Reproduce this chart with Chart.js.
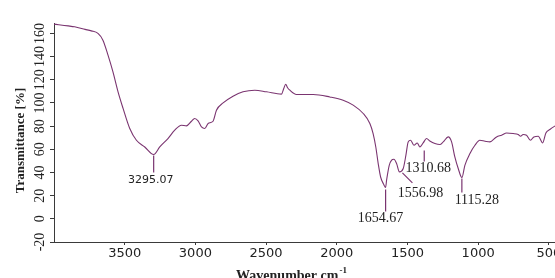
<!DOCTYPE html>
<html>
<head>
<meta charset="utf-8">
<script src="https://cdn.jsdelivr.net/npm/chart.js@4"></script>
<style>
  html, body { margin: 0; padding: 0; background: #fff; overflow: hidden; width: 555px; height: 278px; }
</style>
</head>
<body>
<canvas id="ftirChart" width="580" height="278"></canvas>
<script>
// FTIR spectrum (cm-1, %)
const wavenumbers = [
  4000, 3900, 3854, 3780, 3736, 3689, 3654, 3618, 3583, 3547, 3512, 3465, 3417, 3358, 3295,
  3252, 3194, 3146, 3099, 3063, 3028, 3005, 2981, 2957, 2934, 2910, 2875, 2851, 2804, 2734,
  2663, 2580, 2497, 2391, 2375, 2361, 2349, 2332, 2285, 2167, 2049, 1955, 1884, 1813, 1766,
  1743, 1724, 1707, 1690, 1667, 1655, 1647, 1629, 1612, 1596, 1577, 1557, 1530, 1511, 1495,
  1478, 1454, 1431, 1412, 1389, 1365, 1342, 1306, 1271, 1247, 1212, 1188, 1165, 1141, 1115,
  1094, 1058, 1023, 988, 952, 917, 870, 834, 799, 752, 717, 700, 682, 658, 630,
  606, 575, 544, 521, 493, 458, 400
];
const transmittance = [
  168.0, 166.5, 165.7, 163.5, 162.2, 160.0, 154.2, 141.3, 126.8, 109.6, 95.5, 78.2, 67.8, 62.0, 55.5,
  62.0, 69.3, 76.5, 80.8, 80.2, 84.2, 86.6, 84.5, 79.3, 77.9, 82.3, 84.2, 93.7, 100.0, 105.8,
  109.6, 111.0, 109.6, 107.6, 112.5, 116.2, 113.4, 111.0, 107.3, 107.3, 105.2, 102.4, 98.1, 90.9, 82.3,
  73.6, 62.0, 47.7, 36.1, 29.5, 27.0, 34.0, 46.2, 50.6, 51.4, 47.7, 40.5, 43.4, 54.9, 66.4,
  67.8, 63.5, 65.5, 62.0, 65.5, 69.3, 67.2, 65.0, 64.1, 66.4, 70.7, 66.4, 53.4, 43.4, 35.6,
  46.2, 56.4, 63.5, 67.8, 67.0, 66.4, 70.7, 72.2, 74.1, 73.6, 72.8, 71.3, 72.8, 72.2, 67.8,
  70.7, 71.3, 65.5, 74.1, 77.1, 80.0, 84.0
];
const xTicks = [3500, 3000, 2500, 2000, 1500, 1000, 500];
const yTicks = [-20, 0, 20, 40, 60, 80, 100, 120, 140, 160];
const peakPositions = [3295.07, 1654.67, 1556.98, 1310.68, 1115.28];

const curveColor = '#7a3470';
const axisColor = '#3a3a3a';

// leader line (x1,y1,x2,y2) and label centre, relative to the peak point
const peakStyle = [
  { line: [0, 1, 0, 18], label: [-3, 26], font: '11px "DejaVu Sans"' },
  { line: [0, 2, 0, 24], label: [-5, 31], font: '14px "Liberation Serif"' },
  { line: [3, 1, 13, 11], label: [21, 21], font: '14px "Liberation Serif"' },
  { line: [-10, 7, -10, 18], label: [-6, 25], font: '14px "Liberation Serif"' },
  { line: [0, 1, 0, 15], label: [15, 23], font: '14px "Liberation Serif"' }
];

const decorations = {
  id: 'decorations',
  afterDraw(chart) {
    const ctx = chart.ctx;
    const xs = chart.scales.x, ys = chart.scales.y;
    const area = chart.chartArea;
    const pts = chart.getDatasetMeta(0).data;
    ctx.save();

    // y tick labels, turned on their side
    ctx.fillStyle = '#222';
    ctx.font = '14px "Liberation Serif"';
    ctx.textAlign = 'center';
    ctx.textBaseline = 'alphabetic';
    yTicks.forEach(v => {
      ctx.save();
      ctx.translate(area.left - 10, ys.getPixelForValue(v));
      ctx.rotate(-Math.PI / 2);
      ctx.fillText(String(v), 0, 0);
      ctx.restore();
    });

    // y title
    ctx.save();
    ctx.font = 'bold 13px "Liberation Serif"';
    ctx.translate(24, (area.top + area.bottom) / 2 + 8);
    ctx.rotate(-Math.PI / 2);
    ctx.fillText('Transmittance [%]', 0, 0);
    ctx.restore();

    // x title with superscript
    const main = 'Wavenumber cm';
    const sup = '-1';
    ctx.font = 'bold 14px "Liberation Serif"';
    const wMain = ctx.measureText(main).width;
    ctx.font = 'bold 9px "Liberation Serif"';
    const wSup = ctx.measureText(sup).width;
    const x0 = 291 - (wMain + wSup) / 2;
    ctx.textAlign = 'left';
    ctx.font = 'bold 14px "Liberation Serif"';
    ctx.fillText(main, x0, 280);
    ctx.font = 'bold 9px "Liberation Serif"';
    ctx.fillText(sup, x0 + wMain + 1, 273);

    // peak labels
    peakPositions.forEach((p, i) => {
      let best = 0;
      wavenumbers.forEach((w, j) => {
        if (Math.abs(w - p) < Math.abs(wavenumbers[best] - p)) best = j;
      });
      const px = xs.getPixelForValue(p);
      const py = pts[best].y;
      const st = peakStyle[i];
      ctx.strokeStyle = curveColor;
      ctx.lineWidth = 1.2;
      ctx.beginPath();
      ctx.moveTo(px + st.line[0], py + st.line[1]);
      ctx.lineTo(px + st.line[2], py + st.line[3]);
      ctx.stroke();
      ctx.fillStyle = '#222';
      ctx.font = st.font;
      ctx.textAlign = 'center';
      ctx.textBaseline = 'middle';
      ctx.fillText(p.toFixed(2), px + st.label[0], py + st.label[1]);
    });

    ctx.restore();
  }
};

const ctx = document.getElementById('ftirChart').getContext('2d');
new Chart(ctx, {
  type: 'line',
  data: {
    datasets: [{
      data: wavenumbers.map((w, i) => ({ x: w, y: transmittance[i] })),
      borderColor: curveColor,
      borderWidth: 1.1,
      pointRadius: 0,
      cubicInterpolationMode: 'monotone',
      fill: false
    }]
  },
  options: {
    responsive: false,
    animation: false,
    events: [],
    layout: { padding: { left: 0, top: 23, right: 17, bottom: 0 } },
    plugins: {
      legend: { display: false },
      tooltip: { enabled: false }
    },
    scales: {
      x: {
        type: 'linear',
        reverse: true,
        min: 400,
        max: 4000,
        afterBuildTicks: s => { s.ticks = xTicks.map(v => ({ value: v })); },
        afterFit: s => { s.height = 36; },
        grid: { drawOnChartArea: false, drawTicks: true, tickLength: 3, color: axisColor },
        border: { display: true, color: axisColor, width: 1 },
        ticks: {
          font: { family: 'DejaVu Sans', size: 13 },
          color: '#222',
          padding: 1,
          maxRotation: 0,
          autoSkip: false,
          callback: v => String(v)
        }
      },
      y: {
        min: -20,
        max: 169,
        afterBuildTicks: s => { s.ticks = yTicks.map(v => ({ value: v })); },
        afterFit: s => { s.width = 54; },
        grid: { drawOnChartArea: false, drawTicks: true, tickLength: 4, color: axisColor },
        border: { display: true, color: axisColor, width: 1 },
        ticks: { display: false }
      }
    }
  },
  plugins: [decorations]
});
</script>
</body>
</html>
